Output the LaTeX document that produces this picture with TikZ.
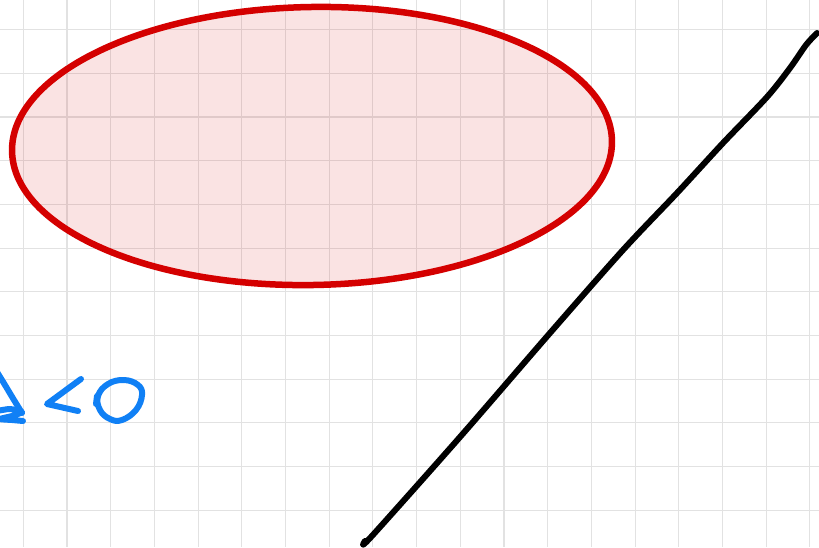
\documentclass[tikz,border=0pt]{standalone}
\usetikzlibrary{calc}
\definecolor{gridgray}{RGB}{226,226,226}
\definecolor{inkred}{RGB}{212,0,0}
\definecolor{inkblue}{RGB}{16,128,245}
\tikzset{
  gridline/.style={draw=gridgray, line width=1.1pt},
  ink/.style={line width=6pt, line cap=round, line join=round},
}
\begin{document}
\begin{tikzpicture}[x=1pt,y=-1pt]
\fill[white] (0,0) rectangle (819,547);
\useasboundingbox (0,0) rectangle (819,547);
% grid
\foreach \k in {0,...,18} {
  \draw[gridline] ({23.3+43.7*\k},0) -- ({23.3+43.7*\k},547);
}
\foreach \k in {0,...,11} {
  \draw[gridline] (0,{29.6+43.7*\k}) -- (819,{29.6+43.7*\k});
}
% ellipse
\fill[inkred, fill opacity=0.11, rotate around={1:(312,146)}] (312,146) ellipse [x radius=300, y radius=139];
\draw[inkred, ink, line width=6.5pt, rotate around={1:(312,146)}] (312,146) ellipse [x radius=300, y radius=139];
% black stroke
\draw[black, ink] plot[smooth, tension=0.5] coordinates {
  (365,541) (371,537) (460,437) (550,333) (623,250) (677,193) (723,143) (767,97) (790,68) (806,45) (817,33)};
% blue handwriting: Delta < 0
\draw[inkblue, ink] plot[smooth, tension=0.4] coordinates {(-3,372) (5,385) (14,400) (22,413)};
\draw[inkblue, ink] plot[smooth, tension=0.4] coordinates {(-3,411) (10,409) (22,412) (12,416) (0,419) (12,420) (23,421)};
\draw[inkblue, ink] (81,379) -- (47,404) -- (78,411);
\draw[inkblue, ink] plot[smooth cycle, tension=0.7] coordinates {
  (98,396) (108,384) (124,380) (138,385) (142,395) (136,410) (122,420) (110,419) (100,410)};
\draw[inkblue, ink] (97,396) -- (96,404);
\end{tikzpicture}
\end{document}
